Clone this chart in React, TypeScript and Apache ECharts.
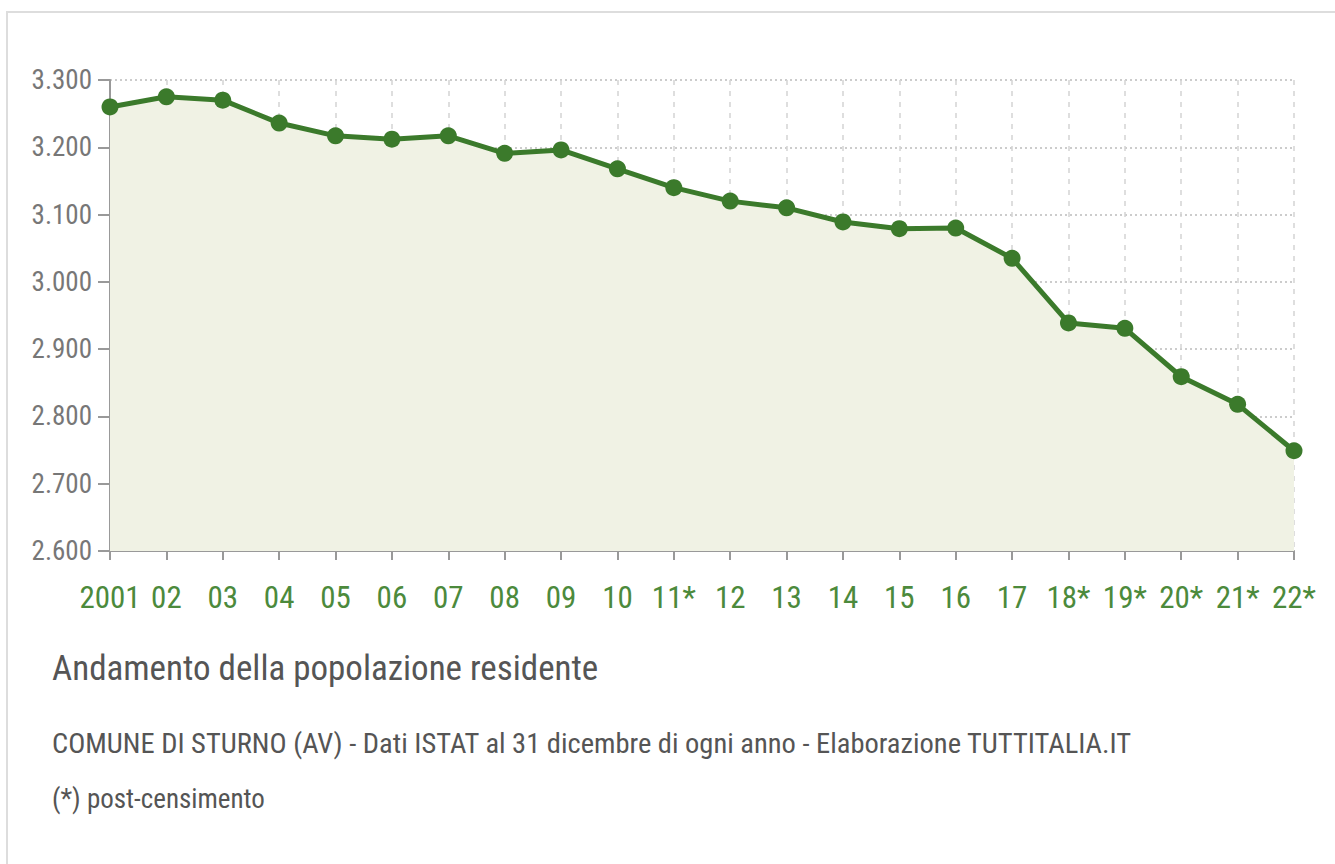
import React, { useEffect, useRef } from "react";
import * as echarts from "echarts";

const categories = ["2001", "02", "03", "04", "05", "06", "07", "08", "09", "10", "11*", "12", "13", "14", "15", "16", "17", "18*", "19*", "20*", "21*", "22*"];
const population = [3260, 3275, 3270, 3236, 3217, 3212, 3217, 3191, 3196, 3168, 3140, 3120, 3110, 3089, 3079, 3080, 3035, 2939, 2931, 2859, 2818, 2749];
const yTicks = { min: 2600, max: 3300, interval: 100 };
const titleText = "Andamento della popolazione residente";
const subtitleText = "COMUNE DI STURNO (AV) - Dati ISTAT al 31 dicembre di ogni anno - Elaborazione TUTTITALIA.IT";
const noteText = "(*) post-censimento";

const FONT = "'Liberation Sans Narrow', 'Roboto Condensed', 'DejaVu Sans Condensed', sans-serif";

export default function App() {
  const ref = useRef<HTMLDivElement>(null);
  useEffect(() => {
    document.body.style.margin = "0";
    const chart = echarts.init(ref.current!, null, { renderer: "svg" });
    chart.setOption({
      animation: false,
      backgroundColor: "#ffffff",
      grid: { left: 110, right: 41, top: 80, bottom: 313 },
      xAxis: {
        type: "category",
        data: categories,
        boundaryGap: false,
        axisLine: { lineStyle: { color: "#999999", width: 2 } },
        axisTick: { show: true, interval: 0, length: 9, lineStyle: { color: "#999999", width: 2 } },
        axisLabel: { interval: 0, color: "#4c8a3c", fontSize: 31, fontFamily: FONT, margin: 31 },
        splitLine: { show: true, interval: 0, lineStyle: { color: "#d4d4d4", width: 1.5, type: [5, 6] } },
      },
      yAxis: {
        type: "value",
        min: yTicks.min,
        max: yTicks.max,
        interval: yTicks.interval,
        axisLine: { show: true, lineStyle: { color: "#999999", width: 2 } },
        axisTick: { show: true, length: 12, lineStyle: { color: "#999999", width: 2 } },
        axisLabel: {
          color: "#777777",
          fontSize: 27,
          fontFamily: FONT,
          margin: 18,
          formatter: (v: number) => v.toLocaleString("it-IT").replace(/\u00a0/g, "").replace(",", "."),
        },
        splitLine: { show: true, lineStyle: { color: "#cccccc", width: 2, type: [2, 3] } },
      },
      series: [
        {
          type: "line",
          data: population,
          symbol: "circle",
          symbolSize: 17,
          lineStyle: { color: "#3b7a2b", width: 5 },
          itemStyle: { color: "#3b7a2b" },
          areaStyle: { color: "#f0f2e4", opacity: 1 },
          z: 3,
        },
      ],
      graphic: [
        {
          type: "rect",
          shape: { x: 7, y: 12, width: 1340, height: 860 },
          style: { fill: "none", stroke: "#dddddd", lineWidth: 2 },
          silent: true,
        },
        {
          type: "text",
          left: 52,
          top: 651,
          style: { text: titleText, fontSize: 35, fontFamily: FONT, fill: "#555555" },
        },
        {
          type: "text",
          left: 52,
          top: 729,
          style: { text: subtitleText, fontSize: 28.5, fontFamily: FONT, fill: "#555555" },
        },
        {
          type: "text",
          left: 52,
          top: 785,
          style: { text: noteText, fontSize: 27, fontFamily: FONT, fill: "#555555" },
        },
      ],
    });
    return () => chart.dispose();
  }, []);
  return <div ref={ref} style={{ position: "absolute", left: 0, top: 0, width: 1335, height: 864 }} />;
}
